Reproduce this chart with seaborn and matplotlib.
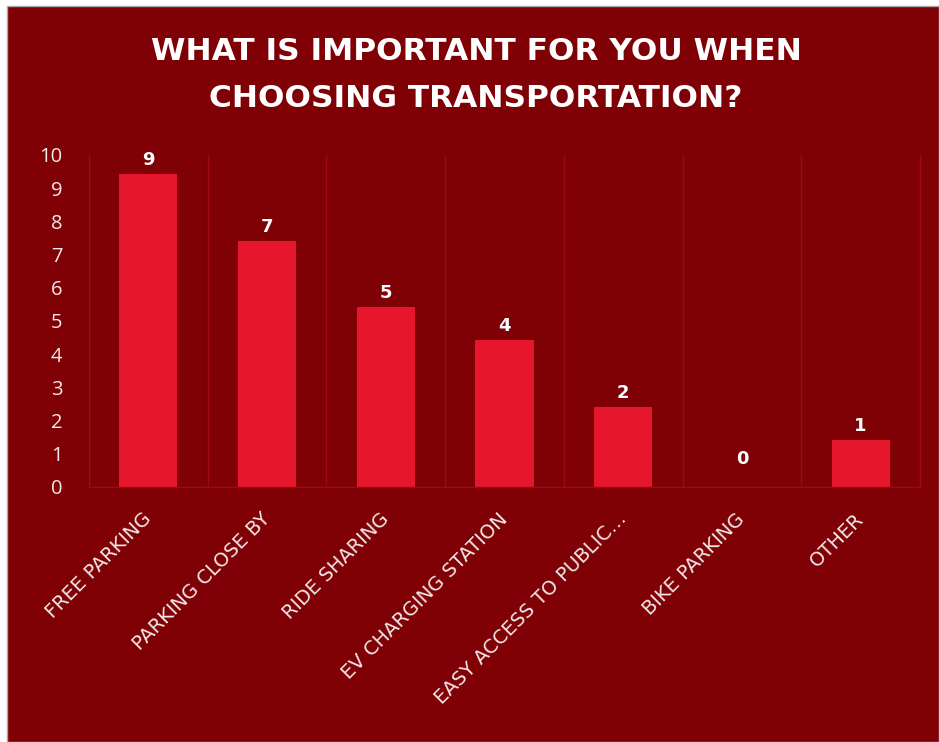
import matplotlib
matplotlib.use("Agg")
import numpy as np
import pandas as pd
import matplotlib.pyplot as plt
import seaborn as sns
from matplotlib.patches import Rectangle

# survey answers
categories = ["FREE PARKING", "PARKING CLOSE BY", "RIDE SHARING",
              "EV CHARGING STATION", "EASY ACCESS TO PUBLIC…",
              "BIKE PARKING", "OTHER"]
counts = [9, 7, 5, 4, 2, 0, 1]
yticks = list(range(0, 11))
title = "WHAT IS IMPORTANT FOR YOU WHEN\nCHOOSING TRANSPORTATION?"

bg = "#7f0005"
bar_color = "#e6172c"
grid_color = "#9c0b15"
text_color = "#f3e8e8"
# the source infographic draws every non-empty bar a bit taller than its value
BAR_PAD = 0.42

sns.set_style("white")
plt.rcParams["font.family"] = ["DejaVu Sans"]

W, H = 939, 742
fig = plt.figure(figsize=(W / 100, H / 100), dpi=100)
fig.patch.set_facecolor("white")
# dark card with a thin grey edge, behind everything
fig.add_artist(Rectangle((6.5 / W, 0), 1 - 6.5 / W, 1 - 6 / H,
                         transform=fig.transFigure, facecolor=bg,
                         edgecolor="#a8a8a8", linewidth=1, zorder=-5))

ax = fig.add_axes([89 / W, 1 - 487 / H, (920 - 89) / W, (487 - 155) / H])
ax.set_facecolor(bg)

df = pd.DataFrame({"option": categories, "count": counts})
sns.barplot(data=df, x="option", y="count", color=bar_color, saturation=1,
            width=0.49, linewidth=0, ax=ax)

bars = ax.containers[0]
for patch, v in zip(bars, counts):
    patch.set_height(patch.get_height() + BAR_PAD)
    if v == 0:
        patch.set_alpha(0)

ax.bar_label(bars, labels=[str(c) for c in counts], padding=3.5,
             color="white", fontsize=13, fontweight="bold")

ax.set_xlim(-0.5, len(categories) - 0.5)
ax.set_ylim(0, 10)
ax.set_yticks(yticks)
ax.set_yticklabels([str(t) for t in yticks], family="Open Sans")
ax.set_xticks(range(len(categories)))
ax.set_xticklabels(categories, family="DejaVu Sans")

# separators between categories
ax.set_xticks(np.arange(-0.5, len(categories)), minor=True)
ax.grid(which="minor", axis="x", color=grid_color, linewidth=1)
ax.grid(which="major", visible=False)
ax.set_axisbelow(True)
ax.spines["top"].set_visible(False)
for s in ["left", "right", "bottom"]:
    ax.spines[s].set_color(grid_color)
    ax.spines[s].set_linewidth(1)

ax.tick_params(which="both", length=0)
ax.tick_params(axis="y", pad=19, labelsize=14.5, labelcolor=text_color)
ax.tick_params(axis="x", pad=21, labelsize=14, labelcolor=text_color)
plt.setp(ax.get_xticklabels(), rotation=45, ha="right", va="center",
         rotation_mode="anchor")
ax.set_xlabel("")
ax.set_ylabel("")

fig.text(476 / W, 1 - 75 / H, title, ha="center", va="center",
         fontsize=22.5, fontweight="bold", color="white", linespacing=1.8)

fig.savefig("out.png", dpi=100, facecolor=fig.get_facecolor())
